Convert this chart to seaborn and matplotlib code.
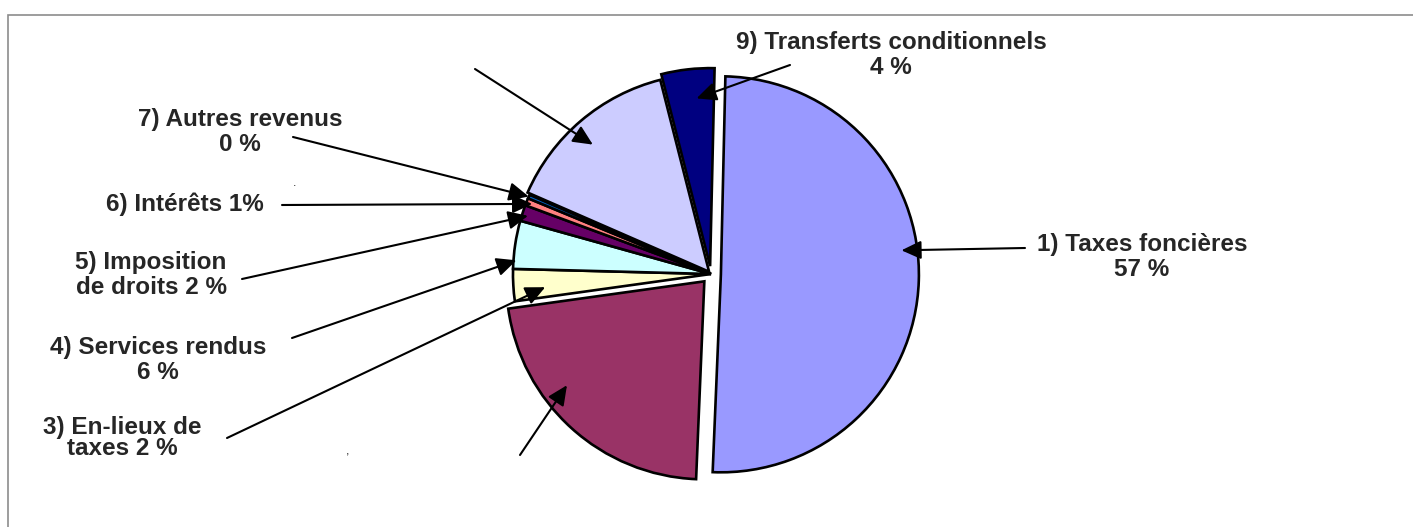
import numpy as np
import matplotlib
matplotlib.use('Agg')
import matplotlib.pyplot as plt
from matplotlib.patches import Rectangle
import seaborn as sns

# postes de revenus, dans l'ordre du graphique (sens horaire depuis le haut)
categories = ['1) Taxes foncières', '2) Transferts', '3) En-lieux de taxes', '4) Services rendus',
              '5) Imposition de droits', '6) Intérêts', '7) Autres revenus', '8) Autres',
              '9) Transferts conditionnels']
# parts (%)
values = [50.0, 22.0, 2.6, 3.9, 1.3, 0.6, 0.3, 14.4, 4.3]
# textes affichés (les postes 2 et 8 n'ont pas de texte visible)
label_texts = ['1) Taxes foncières\n57 %', '', '3) En-lieux de\ntaxes 2 %', '4) Services rendus\n6 %',
               '5) Imposition\nde droits 2 %', '6) Intérêts 1%', '7) Autres revenus\n0 %', '',
               '9) Transferts conditionnels\n4 %']
colors = ['#9999FF', '#993366', '#FFFFCC', '#CCFFFF', '#660066', '#FF8080', '#0066CC', '#CCCCFF', '#000080']
explode = [0.05, 0.05, 0, 0, 0, 0, 0, 0.015, 0.04]

# mise en page (pixels de l'image, y vers le bas)
W, H = 1413, 527
cx, cy, R = 711, 274, 198
text_pos = [(1142, 257), None, (122, 438), (158, 360), (151, 275), (185, 204), (240, 132), None, (891, 55)]
tails = [(1025, 248), (520, 455), (227, 438), (292, 338), (242, 279), (282, 205), (293, 137), (475, 69), (790, 65)]
# où pointe chaque flèche dans sa part : fraction d'angle, fraction de rayon
tip_af = [0.552, 0.366, 0.64, 0.82, 0.57, 0.5, 0.5, 0.54, 0.38]
tip_rf = [0.92, 0.87, 0.84, 0.985, 0.97, 0.97, 1.0, 0.87, 0.85]

sns.set_style('white')
plt.rcParams['font.family'] = ['Liberation Sans', 'DejaVu Sans']

fig = plt.figure(figsize=(W / 100, H / 100), dpi=100)
ax = fig.add_axes([0, 0, 1, 1])

wedges, _ = ax.pie(values, colors=colors, explode=explode, startangle=88.7, counterclock=False,
                   radius=1, wedgeprops=dict(edgecolor='black', linewidth=1.9))
ax.set_xlim(-cx / R, (W - cx) / R)
ax.set_ylim(-(H - cy) / R, cy / R)
ax.axis('off')

# cadre gris
fig.patches.append(Rectangle((8, -20), W + 20, H - 15 + 20, transform=None, fill=False,
                             edgecolor='#8c8c8c', linewidth=1.2))

for i, w in enumerate(wedges):
    th = np.deg2rad(w.theta1 + tip_af[i] * (w.theta2 - w.theta1))
    tip = (w.center[0] + tip_rf[i] * w.r * np.cos(th), w.center[1] + tip_rf[i] * w.r * np.sin(th))
    tx, ty = tails[i]
    ax.annotate('', xy=tip, xycoords='data', xytext=(tx, H - ty), textcoords='figure pixels',
                arrowprops=dict(arrowstyle='-|>,head_length=0.6,head_width=0.28', mutation_scale=20,
                                color='black', lw=1.5, shrinkA=0, shrinkB=0))
    if text_pos[i] is not None:
        px, py = text_pos[i]
        ls = 0.9 if i == 2 else 1.15
        ax.annotate(label_texts[i], xy=(px, H - py), xycoords='figure pixels', ha='center', va='center',
                    multialignment='center', fontsize=17.5, fontweight='bold', linespacing=ls)

# petites marques parasites du document d'origine
ax.annotate('.', xy=(295, H - 183), xycoords='figure pixels', ha='center', va='center', fontsize=9)
ax.annotate(',', xy=(348, H - 452), xycoords='figure pixels', ha='center', va='center', fontsize=9)

fig.savefig('out.png', dpi=100)
